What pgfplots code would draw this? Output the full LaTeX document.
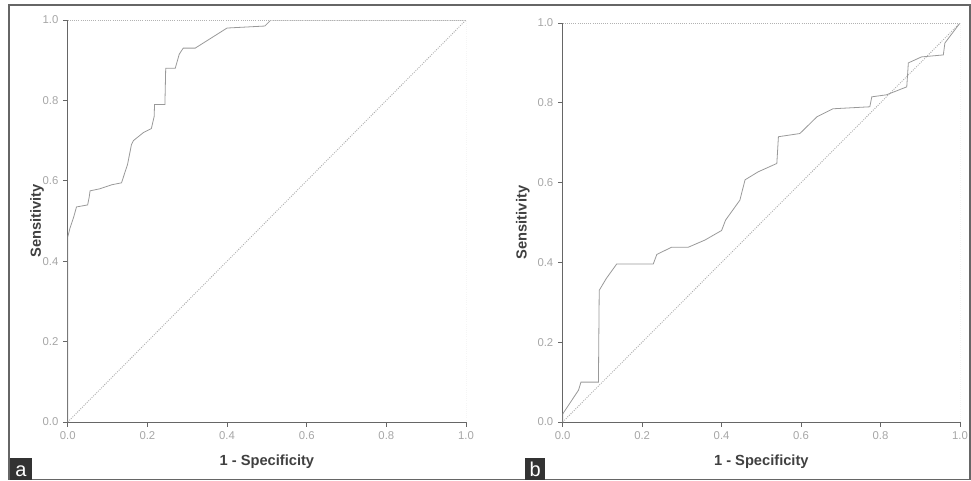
\documentclass[border=0pt]{standalone}
\usepackage{fontspec}
\setmainfont{Liberation Sans}
\usepackage{pgfplots}
\pgfplotsset{compat=1.18}

\pgfplotsset{
  roc/.style={
    scale only axis,
    xmin=0, xmax=1, ymin=0, ymax=1,
    enlargelimits=false,
    axis lines=left,
    axis line style={-, black!60, line width=0.7pt},
    xtick={0,0.2,0.4,0.6,0.8,1}, ytick={0,0.2,0.4,0.6,0.8,1},
    tick align=outside, major tick length=3.5pt,
    tick style={black!60, line width=0.6pt},
    minor tick num=0,
    /pgf/number format/assume math mode=true,
    /pgf/number format/fixed, /pgf/number format/fixed zerofill,
    /pgf/number format/precision=1,
    tick label style={font=\fontsize{8.5}{9}\selectfont, text=black!35},
    xlabel={1 - Specificity}, ylabel={Sensitivity},
    label style={font=\bfseries\fontsize{11}{13}\selectfont, text=black!75},
    xlabel style={at={(axis description cs:0.5,-0.099)}, anchor=center},
  },
  curve/.style={black!40, line width=0.6pt},
  diag/.style={black!32, densely dotted, line width=0.7pt},
}

\begin{document}
\begin{tikzpicture}
\useasboundingbox (0,0) rectangle (728.25pt,360pt);
\draw[black!60, line width=1pt] (6.75pt,0.6pt) rectangle (727.6pt,356.25pt);

% panel a
\begin{axis}[roc, at={(50.8pt,43.5pt)}, anchor=south west,
  width=298.7pt, height=301.5pt,
  ylabel style={at={(axis description cs:-0.077,0.5)}, anchor=center}]
\addplot[diag] coordinates {(0,0)(1,1)};
\addplot[curve] coordinates {(0,0)(0,0.45)(0,0.46)(0.005,0.48)(0.015,0.51)(0.022,0.535)
  (0.05,0.54)(0.054,0.56)(0.056,0.575)(0.08,0.58)(0.11,0.59)(0.135,0.595)
  (0.15,0.64)(0.16,0.69)(0.165,0.70)(0.19,0.72)(0.21,0.73)(0.217,0.76)(0.218,0.79)
  (0.244,0.79)(0.246,0.88)(0.27,0.88)(0.28,0.915)(0.29,0.93)(0.32,0.93)
  (0.36,0.955)(0.40,0.98)(0.495,0.985)(0.51,1.0)(1,1)};
\draw[black!30, densely dotted, line width=0.6pt] (rel axis cs:0,1) -- (rel axis cs:1,1) -- (rel axis cs:1,0);
\end{axis}

% panel b
\begin{axis}[roc, at={(422pt,43.5pt)}, anchor=south west,
  width=298pt, height=299.25pt,
  ylabel style={at={(axis description cs:-0.10,0.5)}, anchor=center}]
\addplot[diag] coordinates {(0,0)(1,1)};
\addplot[curve] coordinates {(0,0)(0,0.02)(0.02,0.05)(0.04,0.08)(0.046,0.10)(0.09,0.10)
  (0.092,0.33)(0.11,0.36)(0.136,0.396)(0.228,0.396)(0.237,0.42)(0.274,0.438)
  (0.316,0.438)(0.358,0.456)(0.40,0.48)(0.41,0.506)(0.446,0.556)(0.459,0.607)
  (0.492,0.627)(0.539,0.648)(0.543,0.715)(0.597,0.723)(0.64,0.765)(0.68,0.785)
  (0.773,0.79)(0.778,0.815)(0.815,0.82)(0.866,0.84)(0.87,0.90)(0.903,0.915)
  (0.958,0.92)(0.962,0.95)(1,1)};
\draw[black!30, densely dotted, line width=0.6pt] (rel axis cs:0,1) -- (rel axis cs:1,1) -- (rel axis cs:1,0);
\end{axis}

% panel letters
\fill[black!80] (7.5pt,0pt) rectangle (24pt,16.5pt);
\node[text=white, font=\fontsize{15}{16}\selectfont, anchor=base] at (15.75pt,3pt) {a};
\fill[black!80] (393.75pt,0pt) rectangle (409pt,16.5pt);
\node[text=white, font=\fontsize{15}{16}\selectfont, anchor=base] at (401.4pt,3pt) {b};
\end{tikzpicture}
\end{document}
